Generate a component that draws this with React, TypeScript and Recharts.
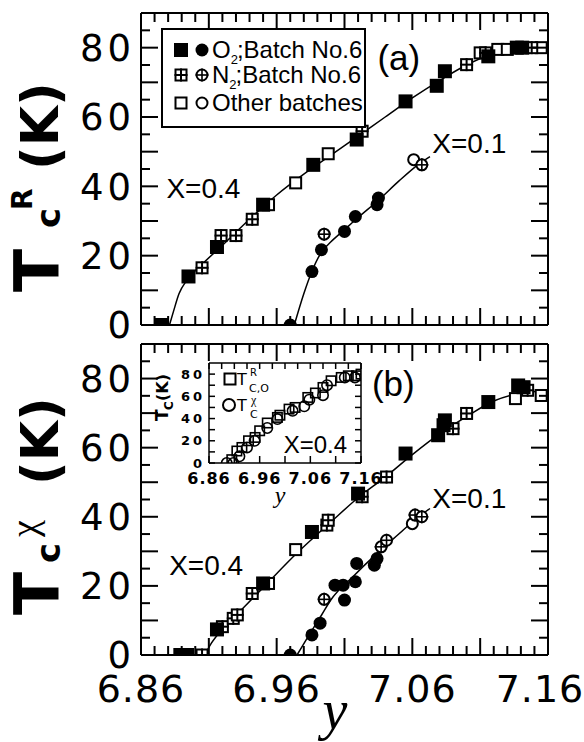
import React from 'react';
import { ComposedChart, Scatter, Line, XAxis, YAxis, Legend, ReferenceDot } from 'recharts';

const SANS = '"Liberation Sans", Arial, Helvetica, sans-serif';
const WIDE = '"DejaVu Sans", Verdana, sans-serif';
const SERIF = '"Liberation Serif", "Times New Roman", serif';

// axis ticks
const X_DOMAIN = [6.86, 7.16];
const Y_DOMAIN = [0, 90];
const X_MINOR = [6.86, 6.87, 6.88, 6.89, 6.9, 6.91, 6.92, 6.93, 6.94, 6.95, 6.96, 6.97, 6.98, 6.99, 7.0, 7.01,
  7.02, 7.03, 7.04, 7.05, 7.06, 7.07, 7.08, 7.09, 7.1, 7.11, 7.12, 7.13, 7.14, 7.15, 7.16];
const X_MAJOR = [6.86, 6.91, 6.96, 7.01, 7.06, 7.11, 7.16];
const X_LABELS = [6.86, 6.96, 7.06, 7.16];
const Y_MINOR = [0, 5, 10, 15, 20, 25, 30, 35, 40, 45, 50, 55, 60, 65, 70, 75, 80, 85];
const Y_MAJOR = [0, 10, 20, 30, 40, 50, 60, 70, 80];
const Y_LABELS = [0, 20, 40, 60, 80];
const INSET_X_BOTTOM = [6.86, 6.91, 6.96, 7.01, 7.06, 7.11, 7.16];
const INSET_X_TOP = [6.86, 6.885, 6.91, 6.935, 6.96, 6.985, 7.01, 7.035, 7.06, 7.085, 7.11, 7.135, 7.16];
const INSET_Y = [0, 10, 20, 30, 40, 50, 60, 70, 80];

// (a) Tc^R, x = 0.4 (squares) and x = 0.1 (circles)
const A_O2_SQ = [[6.875, 0], [6.895, 14], [6.916, 22.5], [6.95, 34.7], [6.987, 46.2], [7.019, 53.5], [7.055, 64.5],
  [7.078, 69], [7.084, 73.2], [7.116, 77.5], [7.137, 80], [7.141, 80]];
const A_N2_SQ = [[6.905, 16.5], [6.919, 25.8], [6.93, 25.8], [6.942, 30.5], [7.023, 55.9], [7.1, 75.1], [7.114, 78.5], [7.148, 80]];
const A_OT_SQ = [[6.954, 34.7], [6.974, 41], [6.998, 49.4], [7.11, 78.5], [7.123, 79.5], [7.13, 79.5], [7.155, 80]];
const A_O2_CI = [[6.97, 0], [6.986, 15.4], [6.993, 21.7], [7.01, 27], [7.018, 31.3], [7.034, 34.7], [7.035, 36.6]];
const A_N2_CI = [[6.995, 26.2], [7.067, 46.2]];
const A_OT_CI = [[7.061, 47.7]];
const A_FIT_04 = [[6.881, 0], [6.884, 4], [6.888, 9], [6.894, 13], [6.905, 17.5], [6.92, 23], [6.94, 30.5], [6.96, 37.5],
  [6.98, 43.5], [7.0, 49], [7.02, 54.5], [7.04, 60], [7.06, 65.5], [7.08, 70.5], [7.1, 75], [7.12, 78.3], [7.14, 79.8], [7.16, 80.3]];
const A_FIT_01 = [[6.973, 0], [6.98, 9], [6.986, 15.5], [6.993, 21], [7.0, 24], [7.01, 27.5], [7.02, 31], [7.035, 36],
  [7.05, 41.5], [7.065, 46.5], [7.073, 48.6]];

// (b) Tc^chi
const B_O2_SQ = [[6.889, 0], [6.894, 0], [6.916, 7.4], [6.95, 20.7], [6.986, 35.6], [7.02, 46.7], [7.055, 58.3], [7.079, 63.6],
  [7.083, 66.5], [7.084, 67.9], [7.116, 73.2], [7.138, 78], [7.142, 77.5]];
const B_N2_SQ = [[6.905, 0], [6.92, 8.2], [6.928, 10.6], [6.931, 11.6], [6.942, 17.8], [6.997, 37.6], [6.998, 39], [7.023, 45.8],
  [7.041, 51.5], [7.09, 65.5], [7.1, 69.9], [7.145, 76.6]];
const B_OT_SQ = [[6.954, 20.7], [6.974, 30.5], [7.136, 74.2], [7.155, 75.1]];
const B_O2_CI = [[6.97, 0], [6.986, 5.8], [6.992, 9.2], [7.003, 20.2], [7.009, 20.2], [7.01, 15.9], [7.018, 21.2], [7.019, 26.5],
  [7.032, 26], [7.034, 27.9]];
const B_N2_CI = [[6.995, 16.1], [7.037, 31.3], [7.041, 33.2], [7.062, 40.5], [7.067, 40]];
const B_OT_CI = [[7.06, 38]];
const B_FIT_04 = [[6.907, 0], [6.912, 3.5], [6.92, 7.5], [6.93, 11.5], [6.95, 19.5], [6.975, 29.5], [7.0, 38.5], [7.02, 45.5],
  [7.04, 51.5], [7.06, 58], [7.08, 64], [7.1, 69], [7.12, 73.5], [7.14, 75.8], [7.16, 76.5]];
const B_FIT_01 = [[6.975, 0], [6.985, 6.5], [6.993, 11.5], [7.0, 16], [7.016, 22.6], [7.034, 29.4], [7.05, 35], [7.06, 38.5], [7.073, 42.4]];

// inset: x = 0.4, Tc,o^R (squares) vs Tc^chi (circles)
const IN_SQ = [[6.905, 3], [6.915, 10.8], [6.925, 14], [6.938, 20], [6.951, 23], [6.96, 29], [6.975, 36], [6.995, 41], [7.0, 43],
  [7.018, 48.5], [7.03, 50], [7.055, 59], [7.07, 63], [7.085, 68], [7.101, 74], [7.121, 77], [7.135, 78.5], [7.151, 78.5], [7.16, 80]];
const IN_CI = [[6.895, 0], [6.908, 0], [6.92, 6], [6.935, 14], [6.95, 20], [6.975, 31.5], [6.995, 39.5], [7.025, 47], [7.048, 51],
  [7.058, 57], [7.085, 61], [7.093, 70], [7.128, 77], [7.148, 77]];

const pts = (a: number[][]) => a.map(([v, T]) => ({ v, T }));
const isIn = (list: number[], v: number) => list.some((m) => Math.abs(m - v) < 1e-6);

// marker shapes
const sqFilled = (s: number) => (p: any) => <rect x={p.cx - s / 2} y={p.cy - s / 2} width={s} height={s} fill="#000" />;
const sqOpen = (s: number, fill = '#fff', w = 2) => (p: any) => (
  <rect x={p.cx - s / 2 + w / 2} y={p.cy - s / 2 + w / 2} width={s - w} height={s - w} fill={fill} stroke="#000" strokeWidth={w} />
);
const sqGrid = (s: number) => (p: any) => (
  <g>
    <rect x={p.cx - s / 2 + 1} y={p.cy - s / 2 + 1} width={s - 2} height={s - 2} fill="#fff" stroke="#000" strokeWidth={2} />
    <line x1={p.cx - s / 2} x2={p.cx + s / 2} y1={p.cy} y2={p.cy} stroke="#000" strokeWidth={2} />
    <line x1={p.cx} x2={p.cx} y1={p.cy - s / 2} y2={p.cy + s / 2} stroke="#000" strokeWidth={2} />
  </g>
);
const ciFilled = (r: number) => (p: any) => <circle cx={p.cx} cy={p.cy} r={r} fill="#000" />;
const ciOpen = (r: number, fill = '#fff', w = 2) => (p: any) => (
  <circle cx={p.cx} cy={p.cy} r={r - w / 2} fill={fill} stroke="#000" strokeWidth={w} />
);
const ciCross = (r: number) => (p: any) => (
  <g>
    <circle cx={p.cx} cy={p.cy} r={r - 1} fill="#fff" stroke="#000" strokeWidth={2} />
    <line x1={p.cx - r} x2={p.cx + r} y1={p.cy} y2={p.cy} stroke="#000" strokeWidth={1.6} />
    <line x1={p.cx} x2={p.cx} y1={p.cy - r} y2={p.cy + r} stroke="#000" strokeWidth={1.6} />
  </g>
);

// inward tick marks (long on majors) plus optional outside label
type Side = 'bottom' | 'top' | 'left' | 'right';
function tickMaker(side: Side, major: number[], minLen: number, majLen: number, lw: number,
  label?: (x: number, y: number, v: number) => React.ReactNode) {
  return (p: any) => {
    const v = Number(p.payload.value);
    const len = isIn(major, v) ? majLen : minLen;
    const { x, y } = p;
    const end = side === 'bottom' ? [x, y - len] : side === 'top' ? [x, y + len] : side === 'left' ? [x + len, y] : [x - len, y];
    return (
      <g>
        <line x1={x} y1={y} x2={end[0]} y2={end[1]} stroke="#000" strokeWidth={lw} />
        {label ? label(x, y, v) : null}
      </g>
    );
  };
}

const yLabelMain = (x: number, y: number, v: number) => isIn(Y_LABELS, v) ? (
  <text x={x - 6} y={y} dy="0.36em" textAnchor="end" fontFamily={WIDE} fontSize={37} letterSpacing={4} fill="#000">{v}</text>
) : null;
const xLabelMain = (x: number, y: number, v: number) => isIn(X_LABELS, v) ? (
  <text x={Math.min(x, 540)} y={y + 47} textAnchor="middle" fontFamily={WIDE} fontSize={38} letterSpacing={1} fill="#000">{v.toFixed(2)}</text>
) : null;
const yLabelInset = (x: number, y: number, v: number) => isIn(Y_LABELS, v) ? (
  <text x={x - 4} y={y} dy="0.36em" textAnchor="end" fontFamily={WIDE} fontWeight="bold" fontSize={13} letterSpacing={3} fill="#000">{v}</text>
) : null;
const xLabelInset = (x: number, y: number, v: number) => isIn(X_LABELS, v) ? (
  <text x={x} y={y + 21} textAnchor="middle" fontFamily={WIDE} fontWeight="bold" fontSize={16} letterSpacing={1} fill="#000">{v.toFixed(2)}</text>
) : null;

const AX = { stroke: '#000', strokeWidth: 2 };
const AXI = { stroke: '#000', strokeWidth: 1.5 };
const axBase = { type: 'number' as const, allowDataOverflow: true, interval: 0 as const, tickSize: 0, tickMargin: 0, tickLine: false };

function TitleA() {
  return (
    <g transform="translate(59,292) rotate(-90)" fontFamily={WIDE} fontWeight="bold" fill="#000">
      <text x={0} y={0} fontSize={63}>T</text>
      <text x={64} y={1} fontSize={34}>c</text>
      <text x={82} y={-27} fontSize={28}>R</text>
      <text x={122} y={-1} fontSize={52}>(K)</text>
    </g>
  );
}
function TitleB() {
  return (
    <g transform="translate(59,285) rotate(-90)" fontFamily={WIDE} fontWeight="bold" fill="#000">
      <text x={0} y={0} fontSize={63}>T</text>
      <text x={52} y={1} fontSize={34}>c</text>
      <text x={78} y={-22} fontSize={38} fontFamily={SERIF} fontWeight="normal">χ</text>
      <text x={130} y={-1} fontSize={52}>(K)</text>
    </g>
  );
}
function TitleInset() {
  return (
    <g transform="translate(28,66) rotate(-90)" fontFamily={WIDE} fontWeight="bold" fill="#000">
      <text x={0} y={0} fontSize={17}>T</text>
      <text x={11} y={5} fontSize={12}>C</text>
      <text x={20} y={0} fontSize={16}>(K)</text>
    </g>
  );
}

function LegendA() {
  const t = { fontFamily: SANS, fontSize: 24, fill: '#000' };
  return (
    <svg width={205} height={100}>
      <rect x={1} y={1} width={203} height={98} fill="#fff" stroke="#000" strokeWidth={2} />
      {sqFilled(14)({ cx: 20, cy: 22 })}
      {ciFilled(6.5)({ cx: 41, cy: 22 })}
      <text x={51} y={30} {...t}>O<tspan fontSize={13} dy={6}>2</tspan><tspan dx={-1} dy={-6}>;Batch No.6</tspan></text>
      {sqGrid(13)({ cx: 20, cy: 47 })}
      {ciCross(6.5)({ cx: 41, cy: 47 })}
      <text x={51} y={55} {...t}>N<tspan fontSize={13} dy={6}>2</tspan><tspan dx={-1} dy={-6}>;Batch No.6</tspan></text>
      {sqOpen(13)({ cx: 20, cy: 75 })}
      {ciOpen(6.5)({ cx: 41, cy: 75 })}
      <text x={51} y={83} {...t}>Other batches</text>
    </svg>
  );
}

function LegendInset() {
  const t = { fontFamily: WIDE, fill: '#000' };
  return (
    <svg width={70} height={55}>
      {sqOpen(13, 'none')({ cx: 10, cy: 12 })}
      <text x={17} y={18} fontSize={16} {...t}>T</text>
      <text x={30} y={9} fontSize={10} {...t}>R</text>
      <text x={29} y={25} fontSize={11} {...t}>C,O</text>
      {ciOpen(7, 'none')({ cx: 9, cy: 38 })}
      <text x={17} y={44} fontSize={16} {...t}>T</text>
      <text x={31} y={37} fontSize={12} fontFamily={SERIF}>χ</text>
      <text x={30} y={51} fontSize={11} {...t}>C</text>
    </svg>
  );
}

const ANNOT_A = [
  { text: '(a)', v: 7.05, T: 77.2, size: 35 },
  { text: 'X=0.4', v: 6.906, T: 39.6, size: 28 },
  { text: 'X=0.1', v: 7.102, T: 52.6, size: 28 },
];
const ANNOT_B = [
  { text: '(b)', v: 7.046, T: 78.6, size: 35 },
  { text: 'X=0.4', v: 6.908, T: 26, size: 28 },
  { text: 'X=0.1', v: 7.102, T: 45.4, size: 28 },
];

function notes(list: { text: string; v: number; T: number; size: number }[]) {
  return list.map((a) => (
    <ReferenceDot key={a.text + a.v} xAxisId="xb" yAxisId="yl" x={a.v} y={a.T} r={0} fill="none" stroke="none"
      label={{ value: a.text, position: 'center', fontSize: a.size, fontFamily: SANS, fill: '#000' }} />
  ));
}

function series(sets: { o2s: number[][]; n2s: number[][]; ots: number[][]; o2c: number[][]; n2c: number[][]; otc: number[][]; fit04: number[][]; fit01: number[][] }) {
  // fitted curves sit on the top/right axes (same domains), markers on bottom/left
  const lineProps = { xAxisId: 'xt', yAxisId: 'yr', dataKey: 'T', type: 'monotone' as const, stroke: '#000', strokeWidth: 1.5, dot: false, activeDot: false, isAnimationActive: false, legendType: 'none' as const };
  const sc = { xAxisId: 'xb', yAxisId: 'yl', isAnimationActive: false };
  return [
    <Line key="f04" data={pts(sets.fit04)} {...lineProps} />,
    <Line key="f01" data={pts(sets.fit01)} {...lineProps} />,
    <Scatter key="ots" data={pts(sets.ots)} shape={sqOpen(13)} {...sc} />,
    <Scatter key="otc" data={pts(sets.otc)} shape={ciOpen(6.5)} {...sc} />,
    <Scatter key="n2s" data={pts(sets.n2s)} shape={sqGrid(13)} {...sc} />,
    <Scatter key="o2s" data={pts(sets.o2s)} shape={sqFilled(14)} {...sc} />,
    <Scatter key="o2c" data={pts(sets.o2c)} shape={ciFilled(6.5)} {...sc} />,
    <Scatter key="n2c" data={pts(sets.n2c)} shape={ciCross(6.5)} {...sc} />,
  ];
}

function mainAxes(top: number, bottom: number, showX: boolean, title: React.ReactNode) {
  return [
    <XAxis key="xb" xAxisId="xb" dataKey="v" orientation="bottom" height={bottom} domain={X_DOMAIN} ticks={X_MINOR} axisLine={AX}
      tick={tickMaker('bottom', X_MAJOR, 9, 17, 2, showX ? xLabelMain : undefined)} {...axBase}
      label={showX ? { content: () => <text x={335} y={399} textAnchor="middle" fontFamily={SERIF} fontStyle="italic" fontSize={56} fill="#000">y</text> } : undefined} />,
    <XAxis key="xt" xAxisId="xt" dataKey="v" orientation="top" height={top} domain={X_DOMAIN} ticks={X_MINOR} axisLine={AX}
      tick={tickMaker('top', X_MAJOR, 9, 17, 2)} {...axBase} />,
    <YAxis key="yl" yAxisId="yl" dataKey="T" orientation="left" width={141} domain={Y_DOMAIN} ticks={Y_MINOR} axisLine={AX}
      tick={tickMaker('left', Y_MAJOR, 9, 17, 2, yLabelMain)} {...axBase} label={{ content: () => title }} />,
    <YAxis key="yr" yAxisId="yr" dataKey="T" orientation="right" width={36} domain={Y_DOMAIN} ticks={Y_MINOR} axisLine={AX}
      tick={tickMaker('right', Y_MAJOR, 9, 17, 2)} {...axBase} />,
  ];
}

export default function App() {
  return (
    <div style={{ position: 'absolute', left: 0, top: 0, width: 584, height: 742, background: '#fff' }}>
      <div style={{ position: 'absolute', left: 0, top: 0 }}>
        <ComposedChart width={584} height={352} margin={{ top: 0, right: 0, bottom: 0, left: 0 }}>
          {mainAxes(13, 27, false, <TitleA />)}
          {series({ o2s: A_O2_SQ, n2s: A_N2_SQ, ots: A_OT_SQ, o2c: A_O2_CI, n2c: A_N2_CI, otc: A_OT_CI, fit04: A_FIT_04, fit01: A_FIT_01 })}
          {notes(ANNOT_A)}
          <Legend layout="vertical" align="center" verticalAlign="middle" content={() => <LegendA />}
            wrapperStyle={{ left: 161, top: 28, width: 205, height: 100 }} />
        </ComposedChart>
      </div>
      <div style={{ position: 'absolute', left: 0, top: 330 }}>
        <ComposedChart width={584} height={412} margin={{ top: 0, right: 0, bottom: 0, left: 0 }}>
          {mainAxes(14, 87, true, <TitleB />)}
          {series({ o2s: B_O2_SQ, n2s: B_N2_SQ, ots: B_OT_SQ, o2c: B_O2_CI, n2c: B_N2_CI, otc: B_OT_CI, fit04: B_FIT_04, fit01: B_FIT_01 })}
          {notes(ANNOT_B)}
        </ComposedChart>
      </div>
      <div style={{ position: 'absolute', left: 140, top: 355 }}>
        <ComposedChart width={262} height={160} margin={{ top: 0, right: 0, bottom: 0, left: 0 }}>
          <XAxis xAxisId="xb" dataKey="v" orientation="bottom" height={52} domain={X_DOMAIN} ticks={INSET_X_BOTTOM} axisLine={AXI}
            tick={tickMaker('bottom', INSET_X_BOTTOM, 7, 7, 1.5, xLabelInset)} {...axBase}
            label={{ content: () => <text x={140} y={148} textAnchor="middle" fontFamily={SERIF} fontStyle="italic" fontSize={24} fill="#000">y</text> }} />
          <XAxis xAxisId="xt" dataKey="v" orientation="top" height={8} domain={X_DOMAIN} ticks={INSET_X_TOP} axisLine={AXI}
            tick={tickMaker('top', INSET_X_TOP, 6, 6, 1.5)} {...axBase} />
          <YAxis yAxisId="yl" dataKey="T" orientation="left" width={69} domain={Y_DOMAIN} ticks={INSET_Y} axisLine={AXI}
            tick={tickMaker('left', INSET_Y, 6, 6, 1.5, yLabelInset)} {...axBase} label={{ content: () => <TitleInset /> }} />
          <YAxis yAxisId="yr" dataKey="T" orientation="right" width={41} domain={Y_DOMAIN} ticks={INSET_Y} axisLine={AXI}
            tick={tickMaker('right', INSET_Y, 6, 6, 1.5)} {...axBase} />
          <Scatter xAxisId="xt" yAxisId="yr" data={pts(IN_CI)} shape={ciOpen(6, 'none', 1.6)} isAnimationActive={false} />
          <Scatter xAxisId="xb" yAxisId="yl" data={pts(IN_SQ)} shape={sqOpen(11, 'none', 1.6)} isAnimationActive={false} />
          <ReferenceDot xAxisId="xb" yAxisId="yl" x={7.07} y={17} r={0} fill="none" stroke="none"
            label={{ value: 'X=0.4', position: 'center', fontSize: 24, fontFamily: SANS, fill: '#000' }} />
          <Legend layout="vertical" align="center" verticalAlign="middle" content={() => <LegendInset />}
            wrapperStyle={{ left: 80, top: 12, width: 70, height: 55 }} />
        </ComposedChart>
      </div>
    </div>
  );
}
